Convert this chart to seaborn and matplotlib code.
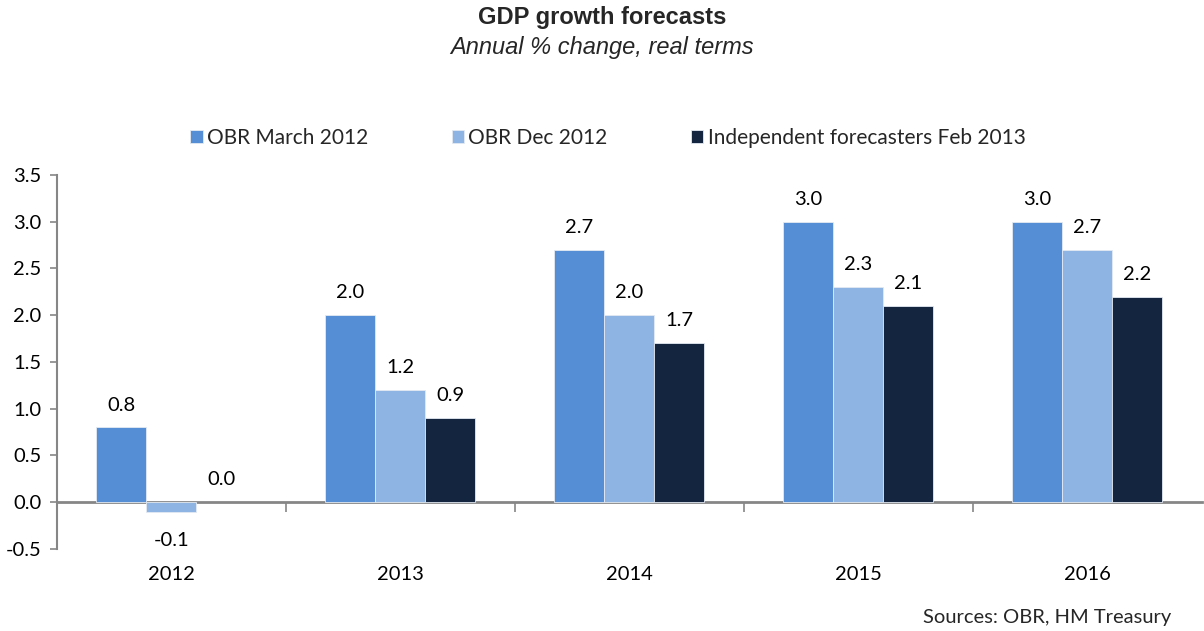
import matplotlib
matplotlib.use("Agg")
import matplotlib.pyplot as plt
import pandas as pd
import seaborn as sns

# Forecast data (annual % change in real GDP)
years = ["2012", "2013", "2014", "2015", "2016"]
series_names = ["OBR March 2012", "OBR Dec 2012", "Independent forecasters Feb 2013"]
obr_march_2012 = [0.8, 2.0, 2.7, 3.0, 3.0]
obr_dec_2012 = [-0.1, 1.2, 2.0, 2.3, 2.7]
independent_feb_2013 = [0.0, 0.9, 1.7, 2.1, 2.2]
y_ticks = [-0.5, 0.0, 0.5, 1.0, 1.5, 2.0, 2.5, 3.0, 3.5]

colors = ["#558ED5", "#8DB4E2", "#14253F"]
axis_grey = "#868686"
text_font = ["Lato", "DejaVu Sans"]

rows = []
for name, vals in zip(series_names, [obr_march_2012, obr_dec_2012, independent_feb_2013]):
    for yr, v in zip(years, vals):
        rows.append({"year": yr, "series": name, "value": v})
df = pd.DataFrame(rows)

sns.set_theme(style="white")
plt.rcParams["font.family"] = text_font

fig = plt.figure(figsize=(12.04, 6.31), dpi=100)
ax = fig.add_axes([0.0473, 0.130, 0.9507, 0.5927])

sns.barplot(data=df, x="year", y="value", hue="series", order=years,
            hue_order=series_names, palette=colors, width=0.655,
            saturation=1, edgecolor="#E4EAF2", linewidth=0.6, ax=ax,
            legend=True)

ymin, ymax = y_ticks[0], y_ticks[-1]
ax.set_ylim(ymin, ymax)
ax.set_xlim(-0.5, len(years) - 0.5)
ax.set_yticks(y_ticks)
ax.set_yticklabels([f"{t:.1f}" for t in y_ticks], fontsize=14.5)
ax.set_xlabel("")
ax.set_ylabel("")

# Value labels above positive bars, below negative ones
for container in ax.containers:
    for bar in container:
        h = bar.get_height()
        xc = bar.get_x() + bar.get_width() / 2
        if h == 0:
            bar.set_linewidth(0)
        if h < 0:
            ax.annotate(f"{h:.1f}", xy=(xc, h), xytext=(0, -15), textcoords="offset points",
                        ha="center", va="top", fontsize=14.5, color="black")
        else:
            ax.annotate(f"{h:.1f}", xy=(xc, h), xytext=(0, 10), textcoords="offset points",
                        ha="center", va="bottom", fontsize=14.5, color="black")

# Spines: grey left axis, category axis drawn along zero
for side in ["top", "right", "bottom"]:
    ax.spines[side].set_visible(False)
ax.spines["left"].set_color(axis_grey)
ax.spines["left"].set_linewidth(1.5)
ax.tick_params(axis="y", direction="out", length=5, width=1.2, color=axis_grey,
               left=True, pad=6, labelcolor="black")
ax.tick_params(axis="x", length=0, pad=12, labelsize=14.5, labelcolor="black")

zero_frac = (0 - ymin) / (ymax - ymin)
zero_axis = ax.secondary_xaxis(zero_frac)
zero_axis.set_xticks([i + 0.5 for i in range(len(years) - 1)])
zero_axis.set_xticklabels([])
zero_axis.tick_params(direction="out", length=7, width=1.2, color=axis_grey)
zero_axis.spines["bottom"].set_color(axis_grey)
zero_axis.spines["bottom"].set_linewidth(2)
for side in ["top", "left", "right"]:
    zero_axis.spines[side].set_visible(False)

handles, labels = ax.get_legend_handles_labels()
ax.get_legend().remove()
fig.legend(handles, labels, loc="center", bbox_to_anchor=(0.505, 0.781), ncol=3,
           frameon=False, fontsize=15, handlelength=0.6, handleheight=0.6,
           handletextpad=0.2, columnspacing=4.0)

fig.text(0.5, 0.973, "GDP growth forecasts", ha="center", va="center",
         fontsize=17, fontweight="bold", family=["Liberation Sans", "DejaVu Sans"])
fig.text(0.5, 0.925, "Annual % change, real terms", ha="center", va="center",
         fontsize=17, style="italic", family=["Liberation Sans", "DejaVu Sans"])
fig.text(0.973, 0.021, "Sources: OBR, HM Treasury", ha="right", va="center",
         fontsize=14.5)

fig.savefig("out.png", dpi=100, facecolor="white")
